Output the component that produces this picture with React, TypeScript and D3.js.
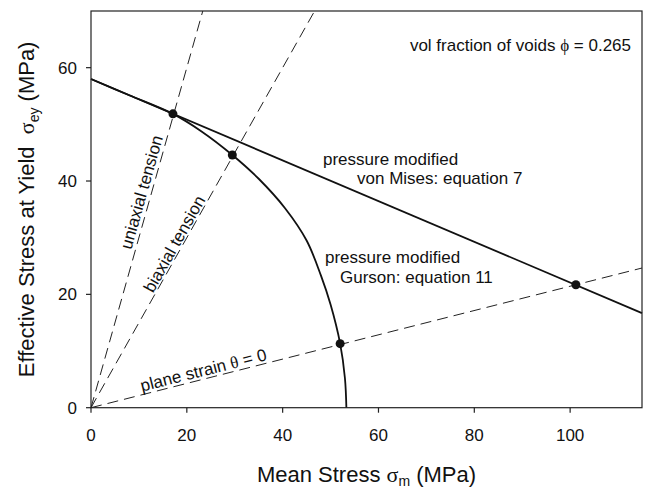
import React from "react";
import * as d3 from "d3";

// ---- data ----
const xTicks = [0, 20, 40, 60, 80, 100];
const yTicks = [0, 20, 40, 60];
const xDomain = [0, 115];
const yDomain = [0, 70];

// pressure modified Gurson curve
const gursonX = [0, 8, 17.1, 23, 29.5, 35, 40.5, 45, 48, 50, 52, 53, 53.3];
const gursonY = [58, 55.13, 51.85, 48.8, 44.6, 40.4, 35.2, 29.5, 23.3, 18.2, 11.3, 5.2, 0];

// pressure modified von Mises line
const misesX = [0, 115];
const misesY = [58, 16.7];

// loading paths (dashed rays from the origin)
const uniaxialX = [0, 23.33];
const uniaxialY = [0, 70];
const biaxialX = [0, 46.67];
const biaxialY = [0, 70];
const planeX = [0, 115];
const planeY = [0, 24.65];

// intersection points
const pointsX = [17.1, 29.5, 52.0, 101.2];
const pointsY = [51.85, 44.6, 11.3, 21.7];

const W = 646;
const H = 489;
const m = { left: 91, top: 11, right: 4, bottom: 81.3 };

const SANS = "'Liberation Sans', Arial, Helvetica, sans-serif";
const GREEK = "'Liberation Serif', 'DejaVu Serif', serif";

export default function App() {
  const x = d3.scaleLinear().domain(xDomain).range([m.left, W - m.right]);
  const y = d3.scaleLinear().domain(yDomain).range([H - m.bottom, m.top]);

  const line = d3
    .line<[number, number]>()
    .x((d) => x(d[0]))
    .y((d) => y(d[1]));
  const curve = d3
    .line<[number, number]>()
    .x((d) => x(d[0]))
    .y((d) => y(d[1]))
    .curve(d3.curveCatmullRom.alpha(0.5));

  const zip = (a: number[], b: number[]) => a.map((v, i) => [v, b[i]] as [number, number]);

  const rayLabel = (xs: number[], ys: number[], at: number, text: React.ReactNode, off: number) => {
    const slope = (ys[1] - ys[0]) / (xs[1] - xs[0]);
    const px = x(at);
    const py = y(at * slope);
    const dx = x(xs[1]) - x(xs[0]);
    const dy = y(ys[1]) - y(ys[0]);
    const ang = (Math.atan2(dy, dx) * 180) / Math.PI;
    return (
      <text
        transform={`translate(${px},${py}) rotate(${ang})`}
        dy={-off}
        fontSize={17}
        fontFamily={SANS}
        fill="#111"
      >
        {text}
      </text>
    );
  };

  const x0 = x(xDomain[0]);
  const x1 = x(xDomain[1]);
  const y0 = y(yDomain[0]);
  const y1 = y(yDomain[1]);

  return (
    <svg
      width={W}
      height={H}
      style={{ position: "absolute", left: 0, top: 0, background: "#fff" }}
    >
      <rect x={0} y={0} width={W} height={H} fill="#fff" />
      {/* dashed rays */}
      <g fill="none" stroke="#222" strokeWidth={1} strokeDasharray="11,6">
        <path d={line(zip(uniaxialX, uniaxialY)) || ""} />
        <path d={line(zip(biaxialX, biaxialY)) || ""} />
        <path d={line(zip(planeX, planeY)) || ""} />
      </g>
      {/* von Mises and Gurson */}
      <g fill="none" stroke="#111" strokeWidth={1.8}>
        <path d={line(zip(misesX, misesY)) || ""} />
        <path d={curve(zip(gursonX, gursonY)) || ""} />
      </g>
      {/* points */}
      {pointsX.map((px, i) => (
        <circle key={i} cx={x(px)} cy={y(pointsY[i])} r={4.5} fill="#111" />
      ))}
      {/* frame */}
      <rect
        x={x0}
        y={y1}
        width={x1 - x0}
        height={y0 - y1}
        fill="none"
        stroke="#222"
        strokeWidth={1.2}
      />
      {/* x axis ticks */}
      {xTicks.map((t) => (
        <g key={"x" + t}>
          <line x1={x(t)} x2={x(t)} y1={y0} y2={y0 + 5} stroke="#222" strokeWidth={1.2} />
          <text
            x={x(t)}
            y={y0 + 33}
            textAnchor="middle"
            fontSize={17}
            fontFamily={SANS}
            fill="#111"
          >
            {t}
          </text>
        </g>
      ))}
      {yTicks.map((t) => (
        <g key={"y" + t}>
          <line x1={x0 - 5} x2={x0} y1={y(t)} y2={y(t)} stroke="#222" strokeWidth={1.2} />
          <text
            x={x0 - 14}
            y={y(t)}
            dy="0.35em"
            textAnchor="end"
            fontSize={17}
            fontFamily={SANS}
            fill="#111"
          >
            {t}
          </text>
        </g>
      ))}
      {/* axis titles */}
      <text
        x={(x0 + x1) / 2}
        y={482}
        textAnchor="middle"
        fontSize={22}
        fontFamily={SANS}
        fill="#111"
      >
        Mean Stress{" "}
        <tspan fontFamily={GREEK}>σ</tspan>
        <tspan fontSize={14} dy={4}>m</tspan>
        <tspan dy={-4}> (MPa)</tspan>
      </text>
      <text
        transform={`translate(34,${(y0 + y1) / 2}) rotate(-90)`}
        textAnchor="middle"
        fontSize={22}
        fontFamily={SANS}
        fill="#111"
      >
        Effective Stress at Yield{"\u00a0\u00a0"}
        <tspan fontFamily={GREEK}>σ</tspan>
        <tspan fontSize={14} dy={5}>ey</tspan>
        <tspan dy={-5}> (MPa)</tspan>
      </text>
      {/* annotations */}
      <text x={631} y={51} textAnchor="end" fontSize={17} fontFamily={SANS} fill="#111">
        vol fraction of voids <tspan fontFamily={GREEK}>ϕ</tspan> = 0.265
      </text>
      <g fontSize={17} fontFamily={SANS} fill="#111">
        <text x={323} y={165}>pressure modified</text>
        <text x={357} y={184}>von Mises: equation 7</text>
        <text x={325} y={263}>pressure modified</text>
        <text x={340} y={283}>Gurson: equation 11</text>
      </g>
      {rayLabel(uniaxialX, uniaxialY, 9.2, "uniaxial tension", 4)}
      {rayLabel(biaxialX, biaxialY, 13.3, "biaxial tension", 2)}
      {rayLabel(
        planeX,
        planeY,
        10.8,
        <>
          plane strain <tspan fontFamily={GREEK}>θ</tspan> = 0
        </>,
        3
      )}
    </svg>
  );
}
